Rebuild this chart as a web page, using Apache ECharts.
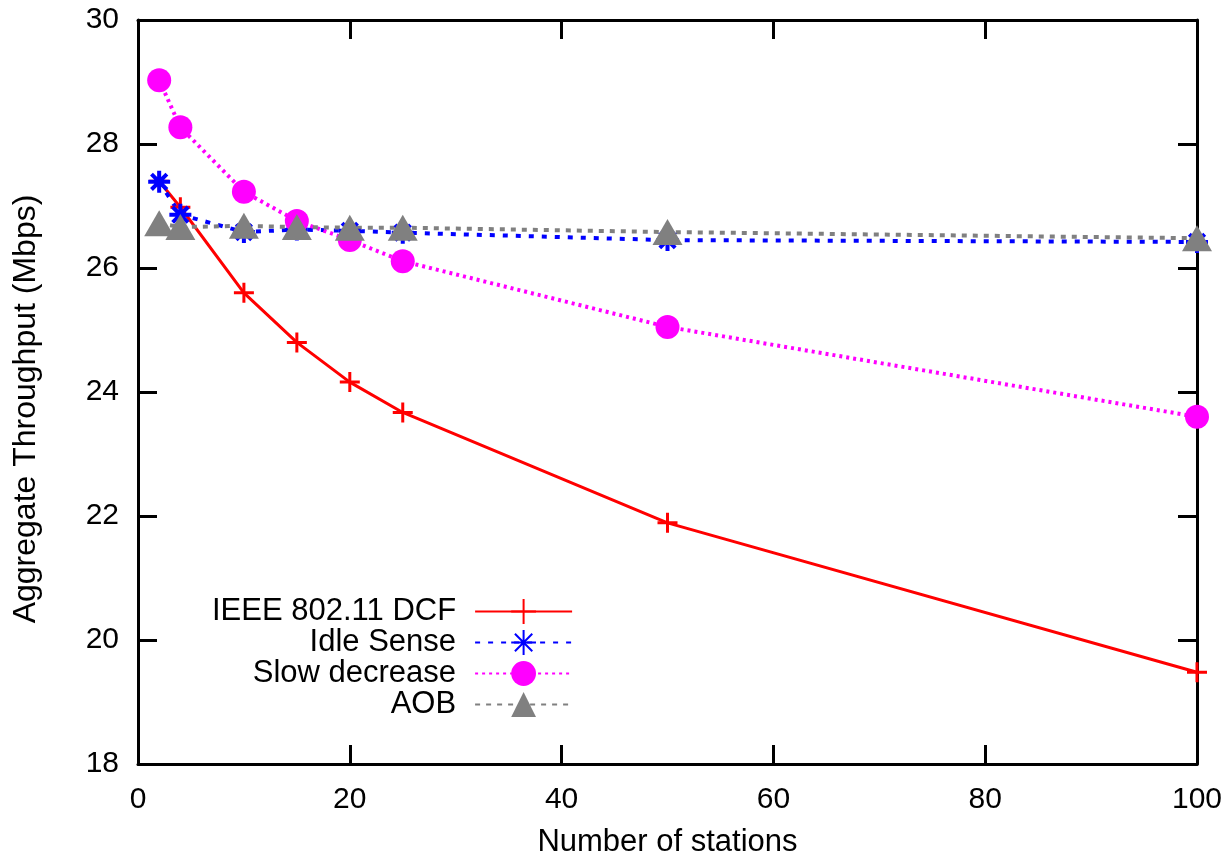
<!doctype html>
<html>
<head>
<meta charset="UTF-8">
<title>Aggregate Throughput</title>
<script src="https://cdn.jsdelivr.net/npm/echarts@6/dist/echarts.min.js"></script>
<style>
  html,body{margin:0;padding:0;background:#fff;}
  #main{width:1228px;height:857px;}
</style>
</head>
<body>
<div id="main"></div>
<script>
// stations on the x axis
var stations = [2, 4, 10, 15, 20, 25, 50, 100];
// aggregate throughput (Mbps)
var dcf = [27.40, 26.98, 25.60, 24.80, 24.16, 23.67, 21.89, 19.48];
var idleSense = [27.39, 26.86, 26.58, 26.62, 26.60, 26.57, 26.45, 26.42];
var slowDecrease = [29.03, 28.27, 27.23, 26.76, 26.45, 26.11, 25.05, 23.60];
var aob = [26.72, 26.66, 26.68, 26.66, 26.65, 26.65, 26.58, 26.48];
var xTicks = [0, 20, 40, 60, 80, 100];
var yTicks = [18, 20, 22, 24, 26, 28, 30];

var font = 'Liberation Sans';

function pairs(ys){
  return stations.map(function(x,i){ return [x, ys[i]]; });
}

var plusPath = 'path://M0,5L10,5M5,0L5,10';
var starPath = 'path://M0,5L10,5M5,0L5,10M1.5,1.5L8.5,8.5M1.5,8.5L8.5,1.5';

var chart = echarts.init(document.getElementById('main'));
var axisCommon = {
  type: 'value',
  axisLine: {show: true, onZero: false, lineStyle: {color: '#000', width: 3}},
  axisTick: {show: true, inside: true, length: 19, lineStyle: {color: '#000', width: 3}},
  splitLine: {show: false}
};
chart.setOption({
  animation: false,
  textStyle: {fontFamily: font},
  grid: {left: 138, top: 20, right: 31, bottom: 93, outerBoundsMode: 'none'},
  legend: {
    orient: 'vertical',
    align: 'right',
    left: 207,
    top: 591,
    itemWidth: 97,
    itemHeight: 31,
    itemGap: 0,
    textStyle: {fontFamily: font, fontSize: 31, lineHeight: 31, color: '#000', padding: [0, 14, 0, 0]},
    data: ['IEEE 802.11 DCF', 'Idle Sense', 'Slow decrease', 'AOB']
  },
  xAxis: [
    Object.assign({}, axisCommon, {
      min: 0, max: 100, interval: 20, position: 'bottom',
      name: 'Number of stations', nameLocation: 'middle', nameGap: 63,
      nameTextStyle: {fontFamily: font, fontSize: 31, color: '#000'},
      axisLabel: {fontFamily: font, fontSize: 30, color: '#000', margin: 21,
        customValues: xTicks},
      axisTick: Object.assign({}, axisCommon.axisTick, {customValues: xTicks})
    }),
    Object.assign({}, axisCommon, {
      min: 0, max: 100, interval: 20, position: 'top',
      axisLabel: {show: false}
    })
  ],
  yAxis: [
    Object.assign({}, axisCommon, {
      min: 18, max: 30, interval: 2, position: 'left',
      name: 'Aggregate Throughput (Mbps)', nameLocation: 'middle', nameGap: 96,
      nameTextStyle: {fontFamily: font, fontSize: 32, color: '#000', padding: [0, 34, 0, 0]},
      axisLabel: {fontFamily: font, fontSize: 30, color: '#000', margin: 19,
        customValues: yTicks},
      axisTick: Object.assign({}, axisCommon.axisTick, {customValues: yTicks})
    }),
    Object.assign({}, axisCommon, {
      min: 18, max: 30, interval: 2, position: 'right',
      axisLabel: {show: false}
    })
  ],
  series: [
    {
      name: 'IEEE 802.11 DCF', type: 'line', data: pairs(dcf),
      symbol: plusPath, symbolSize: 20,
      lineStyle: {color: '#ff0000', width: 3},
      itemStyle: {color: 'rgba(0,0,0,0)', borderColor: '#ff0000', borderWidth: 3}
    },
    {
      name: 'Idle Sense', type: 'line', data: pairs(idleSense),
      symbol: starPath, symbolSize: 22,
      lineStyle: {color: '#0000ff', width: 4, type: [5, 8]},
      itemStyle: {color: 'rgba(0,0,0,0)', borderColor: '#0000ff', borderWidth: 4}
    },
    {
      name: 'Slow decrease', type: 'line', data: pairs(slowDecrease),
      symbol: 'circle', symbolSize: 24,
      lineStyle: {color: '#ff00ff', width: 4, type: [3, 4]},
      itemStyle: {color: '#ff00ff'}
    },
    {
      name: 'AOB', type: 'line', data: pairs(aob),
      symbol: 'triangle', symbolSize: [30, 26],
      lineStyle: {color: '#808080', width: 4, type: [5, 6]},
      itemStyle: {color: '#808080'}
    }
  ]
});
</script>
</body>
</html>
